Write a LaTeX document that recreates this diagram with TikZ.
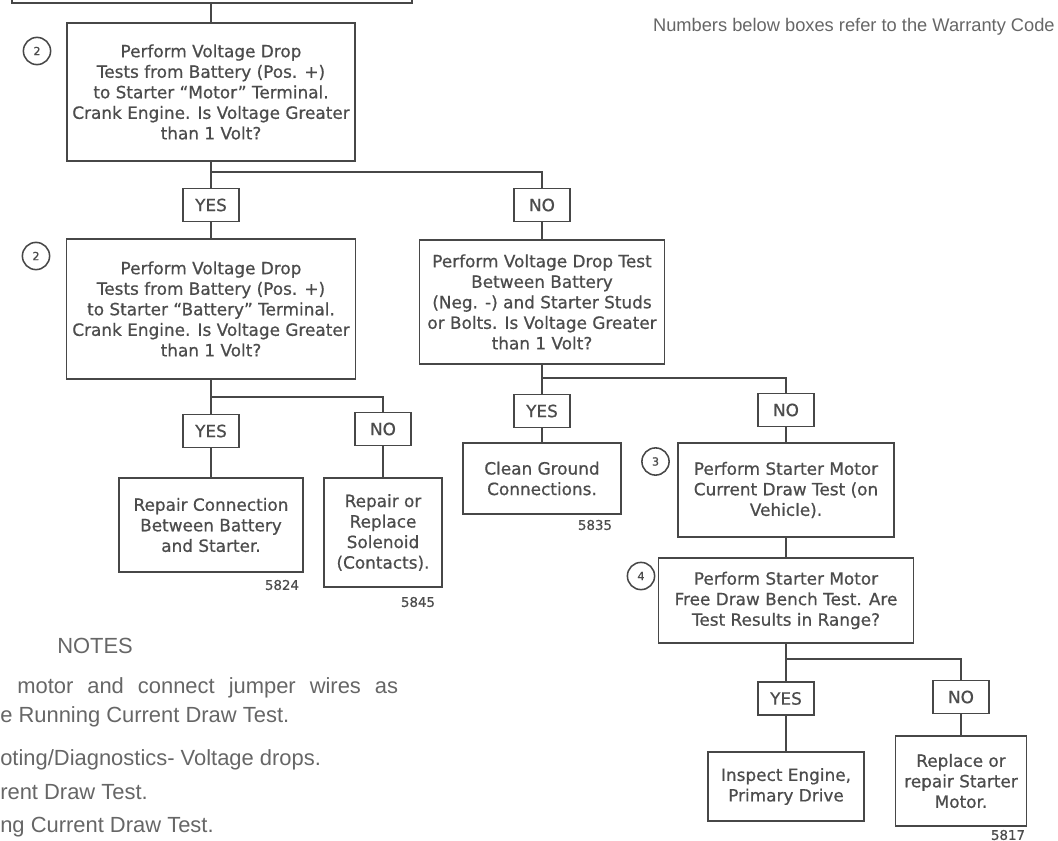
\documentclass[tikz,border=0pt]{standalone}
\usepackage{fontspec}
\usepackage{xcolor}
\usepackage{tikz}
\usetikzlibrary{positioning}

\setmainfont{DejaVu Sans}
\newfontfamily\flowfamily{DejaVu Sans}[FakeBold=0.7]
\newfontfamily\notesfamily{Liberation Sans}

\definecolor{inkgray}{gray}{0.30}
\definecolor{linegray}{gray}{0.28}
\definecolor{notegray}{gray}{0.40}

\newcommand{\flowfont}{\flowfamily\fontsize{12}{14.6}\selectfont}
\newcommand{\stepfont}{\flowfamily\fontsize{8}{9}\selectfont}
\newcommand{\warrantyfont}{\flowfamily\fontsize{9.5}{10}\selectfont}
\newcommand{\notesfont}{\notesfamily\fontsize{15.6}{18}\selectfont}

\begin{document}
\begin{tikzpicture}[
  x=0.025cm, y=-0.025cm,
  testbox/.style={draw=linegray, line width=0.9pt, align=center, inner sep=0pt, text=inkgray, font=\flowfont},
  ansbox/.style={draw=linegray, line width=0.9pt, minimum width=1.4cm, minimum height=0.82cm, inner sep=0pt, text=inkgray, font=\flowfont},
  stepno/.style={draw=linegray, circle, line width=1.1pt, minimum size=0.68cm, inner sep=0pt, text=inkgray, font=\stepfont},
  warranty/.style={inner sep=0pt, text=inkgray, font=\warrantyfont},
  link/.style={draw=linegray, line width=1.2pt},
  notetext/.style={anchor=west, inner sep=0pt, text=notegray, font=\notesfont}
]
  \useasboundingbox (0,0) rectangle (1058,841);

  % tail of the box above
  \draw[link, line width=0.9pt] (12,0) -- (12,3) -- (412,3) -- (412,0);
  \coordinate (prev) at (211,3);

  % left column
  \node[
    testbox,
    minimum width=7.2cm,
    minimum height=3.45cm
  ] (motor) at (211,92) {Perform Voltage Drop\\Tests from Battery (Pos. +)\\to Starter “Motor” Terminal.\\Crank Engine. Is Voltage Greater\\than 1 Volt?};
  \node[stepno] (stepmotor) at (37,51) {2};
  \node[ansbox] (yesmotor) at (211,205) {YES};
  \node[ansbox] (nomotor) at (542,205) {NO};
  \node[
    testbox,
    minimum width=7.22cm,
    minimum height=3.5cm
  ] (battery) at (211,309) {Perform Voltage Drop\\Tests from Battery (Pos. +)\\to Starter “Battery” Terminal.\\Crank Engine. Is Voltage Greater\\than 1 Volt?};
  \node[stepno] (stepbattery) at (36,256) {2};
  \node[ansbox] (yesbattery) at (211,431) {YES};
  \node[ansbox] (nobattery) at (383,429) {NO};
  \node[
    testbox,
    minimum width=4.6cm,
    minimum height=2.35cm
  ] (repair) at (211,525) {Repair Connection\\Between Battery\\and Starter.};
  \node[warranty] (coderepair) at (282,585) {5824};
  \node[
    testbox,
    minimum width=2.95cm,
    minimum height=2.72cm
  ] (solenoid) at (383,532.5) {Repair or\\Replace\\Solenoid\\(Contacts).};
  \node[warranty] (codesolenoid) at (418,602) {5845};

  % middle column
  \node[
    testbox,
    minimum width=6.12cm,
    minimum height=3.1cm
  ] (ground) at (542,302) {Perform Voltage Drop Test\\Between Battery\\(Neg. -) and Starter Studs\\or Bolts. Is Voltage Greater\\than 1 Volt?};
  \node[ansbox] (yesground) at (542,411) {YES};
  \node[ansbox] (noground) at (786,410) {NO};
  \node[
    testbox,
    minimum width=3.95cm,
    minimum height=1.78cm
  ] (clean) at (542,478.5) {Clean Ground\\Connections.};
  \node[warranty] (codeclean) at (595,525) {5835};

  % right column
  \node[
    testbox,
    minimum width=5.4cm,
    minimum height=2.35cm
  ] (current) at (786,490) {Perform Starter Motor\\Current Draw Test (on\\Vehicle).};
  \node[stepno] (stepcurrent) at (655.5,461.5) {3};
  \node[
    testbox,
    minimum width=6.38cm,
    minimum height=2.12cm
  ] (bench) at (786,600.5) {Perform Starter Motor\\Free Draw Bench Test. Are\\Test Results in Range?};
  \node[stepno] (stepbench) at (641,576) {4};
  \node[ansbox] (yesbench) at (786,698.5) {YES};
  \node[ansbox] (nobench) at (961,697) {NO};
  \node[
    testbox,
    minimum width=3.9cm,
    minimum height=1.72cm
  ] (inspect) at (786,786.5) {Inspect Engine,\\Primary Drive};
  \node[
    testbox,
    minimum width=3.28cm,
    minimum height=2.25cm
  ] (starter) at (961,781) {Replace or\\repair Starter\\Motor.};
  \node[warranty] (codestarter) at (1008,835) {5817};

  % connectors
  \coordinate (jmotor) at (211,172);
  \coordinate (jbattery) at (211,397);
  \coordinate (jground) at (542,378);
  \coordinate (jbench) at (786,659);
  \draw[link] (prev) -- (motor.north);
  \draw[link] (motor.south) -- (yesmotor.north);
  \draw[link] (jmotor) -| (nomotor.north);
  \draw[link] (yesmotor.south) -- (battery.north);
  \draw[link] (nomotor.south) -- (ground.north);
  \draw[link] (battery.south) -- (yesbattery.north);
  \draw[link] (jbattery) -| (nobattery.north);
  \draw[link] (yesbattery.south) -- (repair.north);
  \draw[link] (nobattery.south) -- (solenoid.north);
  \draw[link] (ground.south) -- (yesground.north);
  \draw[link] (jground) -| (noground.north);
  \draw[link] (yesground.south) -- (clean.north);
  \draw[link] (noground.south) -- (current.north);
  \draw[link] (current.south) -- (bench.north);
  \draw[link] (bench.south) -- (yesbench.north);
  \draw[link] (jbench) -| (nobench.north);
  \draw[link] (yesbench.south) -- (inspect.north);
  \draw[link] (nobench.south) -- (starter.north);

  % notes
  \node[
    anchor=east,
    inner sep=0pt,
    text=notegray,
    font=\notesfamily\fontsize{13}{15}\selectfont
  ] (codenote) at (1055,27) {Numbers below boxes refer to the Warranty Code};
  \node[notetext] (notestitle) at (57,646) {NOTES};
  \node[notetext] (noteone) at (17,688) {\makebox[9.52cm][s]{motor and connect jumper wires as}};
  \node[notetext] (noteonecont) at (0,717) {e Running Current Draw Test.};
  \node[notetext] (notetwo) at (0,760) {oting/Diagnostics- Voltage drops.};
  \node[notetext] (notethree) at (0,792) {rent Draw Test.};
  \node[notetext] (notefour) at (0,827) {ng Current Draw Test.};
\end{tikzpicture}
\end{document}
